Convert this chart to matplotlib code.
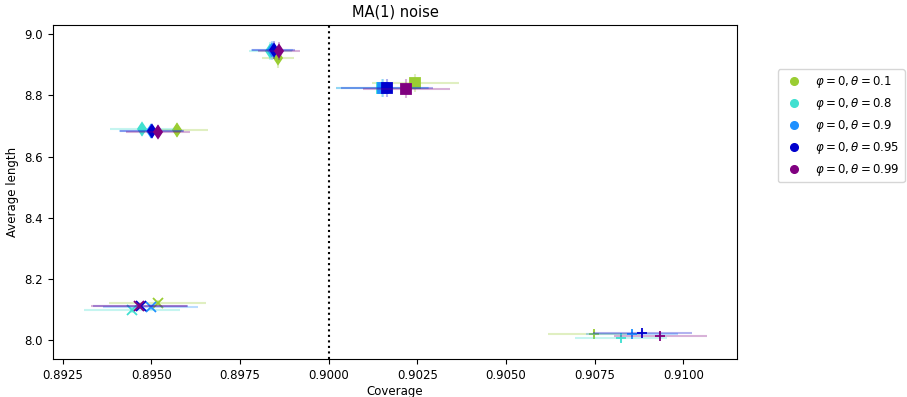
import numpy as np
import matplotlib
matplotlib.use("Agg")
import matplotlib.pyplot as plt

# noise settings (one colour each)
THETA = [0.1, 0.8, 0.9, 0.95, 0.99]
COLORS = ['yellowgreen', 'turquoise', 'dodgerblue', 'mediumblue', 'purple']

# coverage / average length per method, one value per theta
COV_X = [0.89518, 0.89445, 0.89498, 0.89470, 0.89466]
LEN_X = [8.122, 8.098, 8.109, 8.110, 8.111]
COV_X_ERR = [0.00137, 0.00135, 0.00135, 0.00135, 0.00135]
LEN_X_ERR = [0.010, 0.010, 0.010, 0.010, 0.010]

COV_THIN = [0.89574, 0.89475, 0.89500, 0.89503, 0.89518]
LEN_THIN = [8.686, 8.689, 8.683, 8.682, 8.681]
COV_THIN_ERR = [0.00085, 0.00090, 0.00090, 0.00090, 0.00090]
LEN_THIN_ERR = [0.022, 0.022, 0.022, 0.022, 0.022]

COV_DIAM = [0.89856, 0.89836, 0.89840, 0.89845, 0.89860]
LEN_DIAM = [8.921, 8.945, 8.947, 8.948, 8.944]
COV_DIAM_ERR = [0.00045, 0.00060, 0.00060, 0.00060, 0.00060]
LEN_DIAM_ERR = [0.030, 0.030, 0.030, 0.030, 0.030]

COV_SQ = [0.90244, 0.90150, 0.90152, 0.90164, 0.90219]
LEN_SQ = [8.840, 8.823, 8.824, 8.823, 8.822]
COV_SQ_ERR = [0.00122, 0.00130, 0.00130, 0.00130, 0.00122]
LEN_SQ_ERR = [0.030, 0.030, 0.030, 0.030, 0.030]

COV_PLUS = [0.90747, 0.90823, 0.90854, 0.90884, 0.90935]
LEN_PLUS = [8.020, 8.006, 8.020, 8.022, 8.014]
COV_PLUS_ERR = [0.00130, 0.00130, 0.00130, 0.00140, 0.00130]
LEN_PLUS_ERR = [0.012, 0.012, 0.012, 0.012, 0.012]

methods = [
    (COV_X, LEN_X, COV_X_ERR, LEN_X_ERR, 'x'),
    (COV_THIN, LEN_THIN, COV_THIN_ERR, LEN_THIN_ERR, 'd'),
    (COV_DIAM, LEN_DIAM, COV_DIAM_ERR, LEN_DIAM_ERR, 'd'),
    (COV_SQ, LEN_SQ, COV_SQ_ERR, LEN_SQ_ERR, 's'),
    (COV_PLUS, LEN_PLUS, COV_PLUS_ERR, LEN_PLUS_ERR, '+'),
]

fig = plt.figure(figsize=(9.07, 3.97), dpi=100)
ax = fig.add_axes([0.058, 0.095, 0.755, 0.842])

for cov, length, cerr, lerr, mk in methods:
    for i in range(len(THETA)):
        ax.errorbar(cov[i], length[i], xerr=cerr[i], yerr=lerr[i],
                    fmt='none', ecolor=COLORS[i], alpha=0.3, elinewidth=1.5)
        ax.plot(cov[i], length[i], marker=mk, color=COLORS[i],
                markersize=6.5, mew=1.3, linestyle='none')

ax.axvline(0.9, color='black', linestyle=':', linewidth=1.5)

# legend entries
for i, th in enumerate(THETA):
    ax.plot([], [], 'o', color=COLORS[i], markersize=5.5,
            label=r'$\varphi = 0, \theta = %s$' % th)
ax.legend(loc='upper left', bbox_to_anchor=(1.05, 0.885), fontsize=8.5)

ticks = np.arange(0.8925, 0.9101, 0.0025)
ax.set_xlim(0.89222, 0.91152)
ax.set_ylim(7.937, 9.030)
ax.set_xticks(ticks)
ax.set_xticklabels(['%.4f' % t for t in ticks])
ax.set_title('MA(1) noise', fontsize=10.5)
ax.set_xlabel('Coverage', fontsize=8.5, labelpad=2)
ax.set_ylabel('Average length', fontsize=8.5)
ax.tick_params(labelsize=8.5)

fig.savefig('out.png', dpi=100)
